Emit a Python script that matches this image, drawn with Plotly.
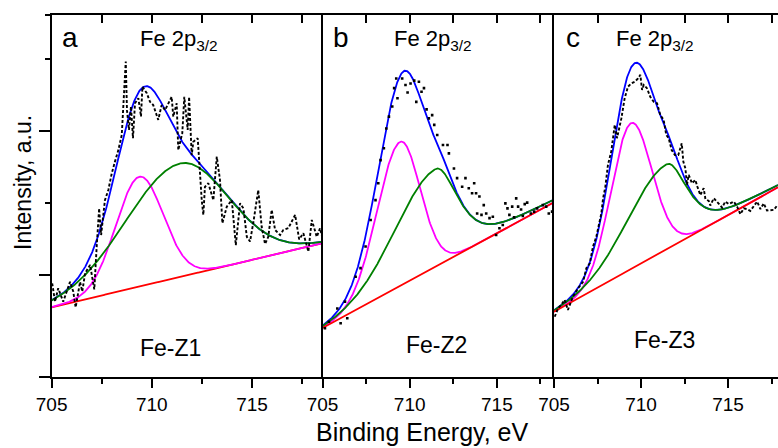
import numpy as np
import plotly.graph_objects as go

# ---- measured Fe 2p3/2 spectra: binding energy (eV) / intensity (a.u.) ----
be_z1 = [705.03, 705.17, 705.33, 705.58, 705.92, 706.08, 706.2, 706.42, 706.53, 706.67,
         706.92, 707.13, 707.25, 707.37, 707.47, 707.66, 707.83, 708.0, 708.16, 708.33,
         708.5, 708.63, 708.7, 708.76, 708.86, 708.96, 709.06, 709.16, 709.33, 709.46,
         709.53, 709.75, 709.91, 710.07, 710.32, 710.49, 710.66, 710.99, 711.07, 711.24,
         711.32, 711.52, 711.62, 711.79, 711.86, 711.99, 712.07, 712.29, 712.36, 712.49,
         712.57, 712.65, 712.82, 713.07, 713.24, 713.4, 713.52, 713.74, 713.99, 714.19,
         714.4, 714.57, 714.74, 714.9, 715.07, 715.31, 715.48, 715.65, 715.81, 715.98,
         716.15, 716.4, 716.56, 716.81, 717.15, 717.35, 717.56, 717.81, 717.98, 718.23,
         718.39, 718.5]
int_z1 = [17.7, 12.6, 16.3, 12.6, 18.1, 15.4, 11.0, 18.1, 15.4, 20.5,
          22.8, 16.0, 27.9, 38.5, 31.1, 40.8, 43.6, 48.2, 51.5, 54.7,
          58.9, 71.4, 79.3, 65.8, 60.3, 66.8, 58.0, 67.7, 69.1, 64.0,
          72.3, 70.5, 68.1, 67.2, 63.1, 67.2, 65.8, 69.5, 64.0, 67.7,
          54.7, 59.4, 69.5, 60.3, 69.5, 53.3, 57.0, 58.0, 50.6, 40.8,
          36.7, 44.5, 45.5, 40.8, 52.9, 46.4, 34.4, 39.0, 40.8, 28.3,
          39.9, 38.5, 30.6, 29.3, 34.8, 43.6, 33.4, 28.6, 30.6, 38.1,
          32.5, 31.1, 32.5, 33.0, 36.7, 29.9, 31.6, 26.5, 35.3, 30.6,
          33.0, 30.6]

be_z2 = [705.14, 705.37, 705.85, 706.04, 706.29, 706.42, 706.9, 707.18, 707.47, 707.76,
         708.04, 708.2, 708.33, 708.52, 708.66, 708.81, 709.0, 709.11, 709.23, 709.3,
         709.57, 709.76, 709.88, 710.05, 710.26, 710.38, 710.53, 710.68, 710.82, 710.97,
         711.1, 711.29, 711.41, 711.58, 711.91, 712.17, 712.25, 712.54, 712.72, 713.01,
         713.2, 713.39, 713.58, 713.7, 713.81, 713.87, 714.0, 714.12, 714.25, 714.39,
         714.58, 714.77, 714.96, 715.15, 715.34, 715.49, 715.61, 715.72, 715.88, 715.99,
         716.11, 716.22, 716.39, 716.49, 716.6, 716.74, 716.95, 717.14, 717.31, 717.64,
         717.83, 717.98, 718.17]
int_z2 = [5.2, 7.0, 10.7, 6.6, 12.6, 8.0, 19.5, 21.9, 27.9, 35.3,
          40.8, 45.5, 51.9, 55.2, 60.7, 64.0, 66.8, 71.9, 74.6, 69.1,
          74.6, 72.8, 70.7, 73.2, 74.0, 68.1, 73.7, 70.9, 71.9, 66.0,
          63.5, 64.4, 61.7, 58.9, 56.1, 56.1, 53.8, 49.6, 46.9, 44.5,
          46.9, 44.1, 42.7, 45.5, 42.7, 37.1, 41.8, 36.7, 39.4, 37.1,
          35.8, 36.2, 31.1, 33.0, 33.9, 39.9, 38.5, 36.7, 39.0, 36.0,
          41.3, 39.0, 38.2, 36.4, 39.7, 40.1, 37.1, 37.6, 38.5, 39.4,
          39.0, 37.1, 37.6]

be_z3 = [705.04, 705.23, 705.42, 705.61, 705.8, 706.09, 706.38, 706.67, 706.86, 707.05,
         707.24, 707.43, 707.72, 707.82, 707.95, 708.1, 708.29, 708.49, 708.62, 708.87,
         709.06, 709.25, 709.44, 709.64, 709.83, 709.96, 710.06, 710.16, 710.34, 710.53,
         710.73, 710.92, 711.11, 711.3, 711.45, 711.59, 711.76, 711.95, 712.14, 712.34,
         712.43, 712.55, 712.64, 712.74, 712.93, 713.12, 713.24, 713.41, 713.6, 713.7,
         713.89, 713.98, 714.18, 714.37, 714.56, 714.66, 714.84, 715.04, 715.33, 715.52,
         715.71, 715.9, 716.09, 716.28, 716.48, 716.67, 716.86, 717.05, 717.24, 717.43,
         717.63, 717.82]
int_z3 = [8.4, 10.7, 11.7, 13.1, 10.3, 14.0, 16.3, 18.1, 21.9, 23.2,
          27.9, 30.6, 37.1, 41.3, 44.5, 50.6, 54.3, 61.7, 58.0, 63.5,
          69.1, 72.3, 73.2, 73.7, 74.6, 75.6, 71.4, 72.8, 71.9, 69.5,
          68.1, 67.7, 64.4, 63.1, 58.9, 58.0, 54.7, 53.3, 53.3, 56.6,
          51.5, 49.6, 45.0, 47.8, 45.5, 46.4, 44.5, 42.2, 44.1, 41.1,
          40.6, 39.3, 41.3, 40.4, 39.3, 38.7, 40.4, 39.7, 40.4, 39.0,
          36.9, 38.5, 38.3, 37.8, 39.0, 40.4, 38.3, 39.9, 37.9, 38.1,
          38.1, 39.3]

# ---- fitted components ----
# linear background: intensity at 705 eV, slope per eV
bg_z1 = [11.03, 1.318]
bg_z2 = [5.28, 2.63]
bg_z3 = [9.8, 2.685]
# peaks: centre (eV), height, HWHM low-BE side, HWHM high-BE side,
#        Lorentzian fraction low side, Lorentzian fraction high side
p1_z1 = [709.38, 30.5, 1.39, 1.39, 0.0, 0.0]
p2_z1 = [711.40, 31.5, 3.18, 2.83, 0.0, 0.0]
p1_z2 = [709.44, 40.0, 1.55, 1.35, 0.0, 0.0]
p2_z2 = [711.48, 27.1, 2.71, 1.50, 0.0, 0.6]
p1_z3 = [709.41, 40.5, 1.35, 1.41, 0.0, 0.0]
p2_z3 = [711.45, 23.6, 2.59, 1.40, 0.0, 0.6]

panel_letters = ["a", "b", "c"]
sample_names = ["Fe-Z1", "Fe-Z2", "Fe-Z3"]
energy_ticks = [705, 710, 715]
energy_minor = [707.5, 712.5, 717.5]

W, H = 778, 448
FONT = "Liberation Sans, Arial, sans-serif"
BLUE, MAGENTA, GREEN, RED = "#0000ff", "#ff00ff", "#008000", "#ff0000"


def peak(x, c, h, wl, wr, el, er):
    w = np.where(x < c, wl, wr)
    eta = np.where(x < c, el, er)
    u = ((x - c) / w) ** 2
    return h * ((1 - eta) * np.exp(-np.log(2) * u) + eta / (1 + u))


def px(v):
    return v / W


def py(v):
    return 1 - v / H


panels = [
    dict(be=be_z1, inten=int_z1, bg=bg_z1, p1=p1_z1, p2=p2_z1,
         dom=(51.6, 322.0), xmax=718.49, red_on_top=False, style="dash"),
    dict(be=be_z2, inten=int_z2, bg=bg_z2, p1=p1_z2, p2=p2_z2,
         dom=(322.5, 553.5), xmax=718.25, red_on_top=True, style="dots"),
    dict(be=be_z3, inten=int_z3, bg=bg_z3, p1=p1_z3, p2=p2_z3,
         dom=(554.0, 778.0), xmax=717.87, red_on_top=True, style="dash"),
]

Y_RANGE = [-8.33, 92.14]
Y_DOM = [py(377.0), py(15.3)]

fig = go.Figure()
layout = dict(
    width=W, height=H, margin=dict(l=0, r=0, t=0, b=0, pad=0), autosize=False,
    paper_bgcolor="white", plot_bgcolor="white", showlegend=False,
    font=dict(family=FONT, color="black"),
)

for i, p in enumerate(panels):
    n = i + 1
    xa = "x" if n == 1 else f"x{n}"
    ya = "y" if n == 1 else f"y{n}"
    xs = np.linspace(705, p["xmax"], 600)
    base = p["bg"][0] + p["bg"][1] * (xs - 705)
    c1 = peak(xs, *p["p1"])
    c2 = peak(xs, *p["p2"])

    def line(y, color):
        return go.Scatter(x=xs, y=y, mode="lines", xaxis=xa, yaxis=ya,
                          line=dict(color=color, width=1.8), hoverinfo="skip")

    env = line(base + c1 + c2, BLUE)
    mag = line(base + c1, MAGENTA)
    grn = line(base + c2, GREEN)
    red = line(base, RED)
    order = [env, mag, grn, red] if p["red_on_top"] else [env, red, mag, grn]
    for t in order:
        fig.add_trace(t)

    if p["style"] == "dots":
        fig.add_trace(go.Scatter(x=p["be"], y=p["inten"], mode="markers", xaxis=xa, yaxis=ya,
                                 marker=dict(symbol="square", size=2.6, color="black"),
                                 hoverinfo="skip"))
    else:
        fig.add_trace(go.Scatter(x=p["be"], y=p["inten"], mode="lines", xaxis=xa, yaxis=ya,
                                 line=dict(color="black", width=1.9, dash="3px,2px"),
                                 hoverinfo="skip"))

    dom = [px(p["dom"][0]), px(p["dom"][1])]
    xr = [705, p["xmax"]]
    layout["xaxis" if n == 1 else f"xaxis{n}"] = dict(
        domain=dom, range=xr, anchor=ya, automargin=False,
        showgrid=False, zeroline=False,
        showline=True, linecolor="black", linewidth=1.5,
        ticks="outside", ticklen=9, tickwidth=1.5, tickcolor="black",
        tickvals=energy_ticks, ticktext=[str(v) for v in energy_ticks],
        tickfont=dict(size=19, family=FONT, color="black"),
        minor=dict(tickmode="array", tickvals=energy_minor, ticks="outside",
                   ticklen=5, tickwidth=1.5, tickcolor="black"),
    )
    # top frame with inward ticks
    top_name = f"x{n + 3}"
    layout[f"xaxis{n + 3}"] = dict(
        overlaying=xa, side="top", anchor=ya, range=xr, automargin=False,
        showgrid=False, zeroline=False,
        showline=True, linecolor="black", linewidth=1.5,
        ticks="inside", ticklen=8, tickwidth=1.5, tickcolor="black",
        tickmode="linear", tick0=705, dtick=2.5, showticklabels=False,
    )
    fig.add_trace(go.Scatter(x=[None], y=[None], xaxis=top_name, yaxis=ya,
                             mode="lines", hoverinfo="skip"))

    yax = dict(domain=Y_DOM, range=Y_RANGE, anchor=xa, automargin=False,
               showgrid=False, zeroline=False,
               showline=True, linecolor="black", linewidth=1.5, showticklabels=False)
    if n == 1:
        yax.update(ticks="outside", ticklen=11, tickwidth=1.5, tickcolor="black",
                   tickmode="array", tickvals=[-8.3, 20, 60],
                   minor=dict(tickmode="array", tickvals=[40, 80, 92.1], ticks="outside",
                              ticklen=5, tickwidth=1.5, tickcolor="black"))
    else:
        yax.update(ticks="")
    layout["yaxis" if n == 1 else f"yaxis{n}"] = yax

annotations = []
letter_pos = [(70, 37.5), (341, 37.5), (573, 37.5)]
title_pos = [(179, 40), (433, 40), (655, 40)]
name_pos = [(170, 348), (436, 344.5), (664.5, 340)]
for i in range(3):
    annotations.append(dict(text=panel_letters[i], x=px(letter_pos[i][0]), y=py(letter_pos[i][1]),
                            xref="paper", yref="paper", showarrow=False,
                            xanchor="center", yanchor="middle",
                            font=dict(size=28, family=FONT, color="black")))
    annotations.append(dict(text="Fe 2p<sub>3/2</sub>", x=px(title_pos[i][0]), y=py(title_pos[i][1]),
                            xref="paper", yref="paper", showarrow=False,
                            xanchor="center", yanchor="middle",
                            font=dict(size=22, family=FONT, color="black")))
    annotations.append(dict(text=sample_names[i], x=px(name_pos[i][0]), y=py(name_pos[i][1]),
                            xref="paper", yref="paper", showarrow=False,
                            xanchor="center", yanchor="middle",
                            font=dict(size=23, family=FONT, color="black")))

annotations.append(dict(text="Binding Energy, eV", x=px(422), y=py(432),
                        xref="paper", yref="paper", showarrow=False,
                        xanchor="center", yanchor="middle",
                        font=dict(size=25, family=FONT, color="black")))
annotations.append(dict(text="Intensity, a.u.", x=px(23), y=py(183), textangle=-90,
                        xref="paper", yref="paper", showarrow=False,
                        xanchor="center", yanchor="middle",
                        font=dict(size=23, family=FONT, color="black")))
layout["annotations"] = annotations

fig.update_layout(**layout)
fig.write_html("out.html")
